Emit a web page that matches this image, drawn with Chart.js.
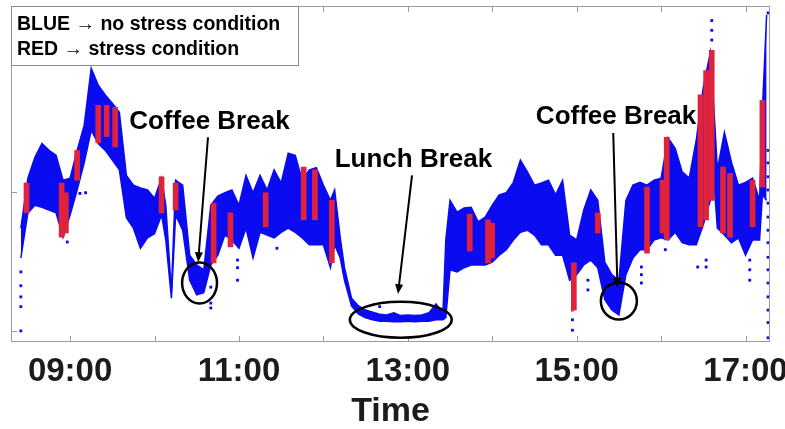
<!DOCTYPE html>
<html>
<head>
<meta charset="utf-8">
<script src="https://cdn.jsdelivr.net/npm/chart.js@4.4.0/dist/chart.umd.min.js"></script>
<style>
  html, body { margin: 0; padding: 0; background: #fff; }
</style>
</head>
<body>
<canvas id="hrChart" width="785" height="429"></canvas>
<script>
'use strict'

// band of the signal: upper and lower edge, mostly every 5 minutes
const sampleTimes = [
  '08:25','08:30','08:35','08:40','08:45','08:50','08:55',
  '09:00','09:05','09:10','09:15','09:20','09:25','09:30','09:35','09:40','09:45','09:50','09:55',
  '10:00','10:05','10:08','10:12','10:15','10:20','10:25','10:30','10:35','10:40','10:45','10:50','10:55',
  '11:00','11:05','11:10','11:15','11:20','11:25','11:30','11:35','11:40','11:45','11:50','11:55',
  '12:00','12:05','12:08','12:12','12:15','12:20','12:25','12:30','12:35','12:40','12:45','12:50','12:55',
  '13:00','13:05','13:10','13:15','13:20','13:25','13:27','13:30','13:35','13:40','13:45','13:50','13:55',
  '14:00','14:05','14:10','14:15','14:20','14:25','14:30','14:35','14:40','14:45','14:50','14:55',
  '15:00','15:05','15:10','15:15','15:20','15:25','15:30','15:35','15:40','15:45','15:50','15:55',
  '16:00','16:05','16:10','16:15','16:20','16:25','16:30','16:35','16:38','16:40','16:45','16:50','16:55',
  '17:00','17:05','17:10','17:12','17:15'
];
const bandHigh = [
  74.8, 82.0, 85.0, 87.0, 86.0, 85.3, 81.7,
  82.0, 86.0, 89.6, 97.8, 95.4, 94.0, 92.8, 91.5, 82.4, 81.0, 80.6, 80.3,
  79.1, 82.0, 78.1, 65.6, 81.7, 81.0, 70.9, 69.5, 68.8, 78.1, 79.4, 79.9, 80.3,
  78.1, 82.4, 79.9, 82.4, 80.3, 83.2, 81.3, 85.6, 85.3, 81.7, 83.2, 83.5,
  81.0, 78.8, 80.3, 73.4, 69.1, 64.7, 63.6, 63.0, 62.7, 62.4, 62.3, 62.6, 62.2,
  62.3, 62.2, 62.3, 62.6, 63.9, 62.7, 73.1, 78.8, 77.1, 77.7, 77.8, 75.7, 76.4,
  78.1, 79.6, 79.9, 81.4, 84.6, 82.9, 81.0, 81.3, 81.7, 79.6, 81.7, 73.8,
  73.1, 77.4, 80.3, 78.8, 69.9, 68.1, 67.3, 78.8, 81.0, 81.4, 81.0, 81.7,
  82.0, 87.8, 86.3, 82.9, 82.0, 87.5, 95.1, 100.1, 90.4, 83.2, 88.6, 84.3, 81.0,
  81.4, 82.0, 78.8, 91.8, 105.5
];
const bandLow = [
  70.5, 77.0, 78.1, 77.8, 77.4, 77.0, 73.5,
  76.7, 80.3, 84.2, 88.9, 87.0, 86.0, 84.6, 83.2, 76.3, 74.8, 71.9, 73.4,
  74.0, 76.7, 73.1, 64.7, 76.7, 74.5, 67.3, 65.2, 65.5, 69.5, 70.9, 73.8, 73.1,
  71.9, 74.8, 70.5, 74.2, 73.8, 73.4, 74.2, 74.8, 74.2, 73.4, 72.4, 72.4,
  72.4, 69.1, 72.4, 70.5, 67.3, 63.6, 62.4, 61.9, 61.6, 61.4, 61.4, 61.3, 61.3,
  61.4, 61.3, 61.4, 61.4, 61.6, 61.6, 61.9, 68.8, 68.5, 69.1, 69.5, 69.5, 69.5,
  69.9, 70.9, 71.7, 73.1, 74.2, 74.5, 73.8, 72.4, 72.4, 70.9, 70.9, 67.3,
  68.1, 69.5, 70.2, 69.1, 64.5, 63.0, 62.3, 68.1, 70.5, 71.7, 71.7, 73.1,
  73.4, 73.1, 74.2, 72.7, 72.4, 72.4, 75.3, 78.8, 80.3, 74.8, 73.8, 72.7, 73.4,
  70.9, 73.1, 73.1, 79.6, 78.8
];

// stress episodes (red strips)
const stressTimes = [
  '08:29','08:54','08:57','09:05','09:20','09:26','09:32','10:05','10:15','10:42',
  '10:54','11:19','11:46','11:54','12:06','13:44','13:57','14:00','14:58','15:15',
  '15:50','16:01','16:04','16:28','16:32','16:36','16:44','16:49','17:05','17:12'
];
const stressHigh = [
  81.3, 81.3, 79.9, 86.0, 92.5, 92.5, 92.2, 82.2, 81.3, 78.4,
  77.0, 79.9, 83.6, 83.2, 78.8, 76.8, 76.0, 75.5, 69.8, 77.0,
  80.7, 81.7, 87.9, 94.0, 97.5, 100.4, 83.6, 82.7, 81.7, 93.2
];
const stressLow = [
  77.0, 73.5, 74.1, 81.7, 87.1, 88.0, 86.5, 77.0, 77.4, 69.8,
  72.1, 75.0, 76.0, 76.0, 69.8, 71.5, 69.8, 70.5, 63.0, 74.1,
  71.2, 74.1, 73.1, 75.0, 76.0, 78.8, 74.1, 73.5, 75.0, 80.7
];

// isolated samples outside the band
const dotTimes = [
  '08:25','08:25','08:25','08:25','08:25','08:58','09:07','09:11',
  '10:40','10:40','10:40','10:59','10:59','10:59','11:27','12:40',
  '14:57','14:57','15:08','15:08','15:46','15:46','15:46','16:03',
  '16:26','16:32','16:32','16:36','16:36','16:36','17:03','17:03','17:03',
  '17:16','17:16','17:16','17:16','17:16','17:16','17:16','17:16',
  '17:16','17:16','17:16','17:16','17:16','17:16','17:16','17:16'
];
const dotValues = [
  68.5, 66.5, 64.9, 63.5, 60.0, 72.8, 79.8, 79.9,
  66.3, 64.0, 63.3, 70.2, 69.1, 67.3, 71.9, 63.5,
  61.6, 60.1, 67.3, 65.9, 69.2, 68.1, 66.9, 71.7,
  69.2, 70.2, 69.2, 104.7, 103.3, 101.9, 70.2, 68.8, 67.3,
  105.8, 86.0, 84.2, 82.2, 80.3, 78.4, 76.4, 74.5,
  72.7, 70.6, 68.8, 66.9, 64.9, 63.0, 61.2, 59.0
];
const stressDotTimes = ['14:57', '14:57', '14:57'];
const stressDotValues = [65.9, 64.5, 63.0];

const hourLabels = ['09:00', '11:00', '13:00', '15:00', '17:00'];
const valueTicks = [60, 80, 100];

const legendLines = ['BLUE \u2192 no stress condition', 'RED \u2192 stress condition'];

// callouts: text, arrow and the ellipse round the event
const callouts = [
  { text: 'Coffee Break', at: ['10:39', 90.1], from: ['10:38', 87.9], to: ['10:31', 69.9],
    ring: ['10:32', 66.9], ringMin: 12.4, ringBpm: 2.95 },
  { text: 'Lunch Break', at: ['13:04', 84.6], from: ['13:03', 82.4], to: ['12:53', 65.3],
    ring: ['12:55', 61.6], ringMin: 36.2, ringBpm: 2.59 },
  { text: 'Coffee Break', at: ['15:28', 90.8], from: ['15:26', 88.5], to: ['15:29', 66.2],
    ring: ['15:30', 64.3], ringMin: 12.8, ringBpm: 2.66 }
];

const BLUE = '#0b0bf2';
const RED = '#e0233c';
const FONT = '"Liberation Sans", Arial, sans-serif';

function toHours(s) {
  const [h, m] = s.split(':').map(Number);
  return h + m / 60;
}

const lowPts = sampleTimes.map((t, i) => ({ x: toHours(t), y: bandLow[i] }));
const highPts = sampleTimes.map((t, i) => ({ x: toHours(t), y: bandHigh[i] }));
const stressPts = stressTimes.map((t, i) => ({ x: toHours(t), y: [stressLow[i], stressHigh[i]] }));
const dotPts = dotTimes.map((t, i) => ({ x: toHours(t), y: dotValues[i] }));
const stressDotPts = stressDotTimes.map((t, i) => ({ x: toHours(t), y: stressDotValues[i] }));

function drawArrow(ctx, x1, y1, x2, y2) {
  const ang = Math.atan2(y2 - y1, x2 - x1);
  ctx.beginPath();
  ctx.moveTo(x1, y1);
  ctx.lineTo(x2 - 6 * Math.cos(ang), y2 - 6 * Math.sin(ang));
  ctx.stroke();
  ctx.beginPath();
  ctx.moveTo(x2, y2);
  ctx.lineTo(x2 - 10 * Math.cos(ang) + 4 * Math.sin(ang), y2 - 10 * Math.sin(ang) - 4 * Math.cos(ang));
  ctx.lineTo(x2 - 10 * Math.cos(ang) - 4 * Math.sin(ang), y2 - 10 * Math.sin(ang) + 4 * Math.cos(ang));
  ctx.closePath();
  ctx.fill();
}

const overlayPlugin = {
  id: 'overlay',
  afterDraw(chart) {
    const { ctx, chartArea: a, scales: { x, y } } = chart;
    ctx.save();

    // frame with inward ticks
    ctx.strokeStyle = '#9b9b9b';
    ctx.lineWidth = 1;
    ctx.strokeRect(a.left + 0.5, a.top + 0.5, a.width - 1, a.height - 1);
    ctx.beginPath();
    for (let h = 9; h <= 17; h++) {
      const px = Math.round(x.getPixelForValue(h)) + 0.5;
      ctx.moveTo(px, a.bottom); ctx.lineTo(px, a.bottom - 6);
      ctx.moveTo(px, a.top); ctx.lineTo(px, a.top + 6);
    }
    valueTicks.forEach(v => {
      const py = Math.round(y.getPixelForValue(v)) + 0.5;
      ctx.moveTo(a.left, py); ctx.lineTo(a.left + 6, py);
    });
    ctx.stroke();

    // callouts
    ctx.strokeStyle = '#000';
    ctx.fillStyle = '#000';
    ctx.font = 'bold 26px ' + FONT;
    ctx.textAlign = 'center';
    ctx.textBaseline = 'middle';
    callouts.forEach(c => {
      ctx.fillText(c.text, x.getPixelForValue(toHours(c.at[0])), y.getPixelForValue(c.at[1]));
      ctx.lineWidth = 2;
      drawArrow(ctx,
        x.getPixelForValue(toHours(c.from[0])), y.getPixelForValue(c.from[1]),
        x.getPixelForValue(toHours(c.to[0])), y.getPixelForValue(c.to[1]));
      const cx = x.getPixelForValue(toHours(c.ring[0]));
      const cy = y.getPixelForValue(c.ring[1]);
      const rx = x.getPixelForValue(toHours(c.ring[0]) + c.ringMin / 60) - cx;
      const ry = cy - y.getPixelForValue(c.ring[1] + c.ringBpm);
      ctx.lineWidth = 2.5;
      ctx.beginPath();
      ctx.ellipse(cx, cy, rx, ry, 0, 0, Math.PI * 2);
      ctx.stroke();
    });

    // legend box
    ctx.fillStyle = '#fff';
    ctx.fillRect(a.left, a.top, 287, 59);
    ctx.strokeStyle = '#8a8a8a';
    ctx.lineWidth = 1;
    ctx.strokeRect(a.left + 0.5, a.top + 0.5, 287, 59);
    ctx.fillStyle = '#000';
    ctx.font = 'bold 19.5px ' + FONT;
    ctx.textAlign = 'left';
    legendLines.forEach((line, i) => {
      ctx.fillText(line, a.left + 6, a.top + 19 + i * 25);
    });
    ctx.restore();
  }
};

new Chart(document.getElementById('hrChart'), {
  type: 'line',
  data: {
    datasets: [
      { data: lowPts, borderColor: BLUE, borderWidth: 1.5, pointRadius: 0, fill: false, order: 4 },
      { data: highPts, borderColor: BLUE, backgroundColor: BLUE, borderWidth: 1.5, pointRadius: 0, fill: '-1', order: 3 },
      { type: 'bar', data: stressPts, backgroundColor: RED, barThickness: 5, grouped: false, order: 2 },
      { data: dotPts, showLine: false, pointStyle: 'rect', pointRadius: 2, pointBorderWidth: 0,
        pointBackgroundColor: BLUE, order: 1 },
      { data: stressDotPts, showLine: false, pointStyle: 'rect', pointRadius: 2, pointBorderWidth: 0,
        pointBackgroundColor: RED, order: 0 }
    ]
  },
  options: {
    responsive: false,
    animation: false,
    layout: { autoPadding: false, padding: { left: 11, right: 15, top: 6, bottom: 0 } },
    plugins: { legend: { display: false }, tooltip: { enabled: false } },
    scales: {
      x: {
        type: 'linear',
        min: toHours('08:18'),
        max: 17.29,
        offset: false,
        grid: { display: false, drawTicks: false },
        border: { display: false },
        afterFit: (scale) => {
          scale.height = 87;
          scale.paddingLeft = 0;
          scale.paddingRight = 0;
        },
        ticks: {
          stepSize: 1,
          includeBounds: false,
          autoSkip: false,
          maxRotation: 0,
          padding: 10,
          color: '#1c1c1c',
          font: { family: FONT, size: 33, weight: 'bold' },
          callback: (v) => {
            if (Math.abs(v - Math.round(v)) > 1e-6) return '';
            const label = String(Math.round(v)).padStart(2, '0') + ':00';
            return hourLabels.includes(label) ? label : '';
          }
        },
        title: {
          display: true, text: 'Time', color: '#1c1c1c',
          font: { family: FONT, size: 34, weight: 'bold', lineHeight: 1 },
          padding: { top: 2, bottom: 0 }
        }
      },
      y: { display: false, min: 58.4, max: 106.8 }
    }
  },
  plugins: [overlayPlugin]
});
</script>
</body>
</html>
